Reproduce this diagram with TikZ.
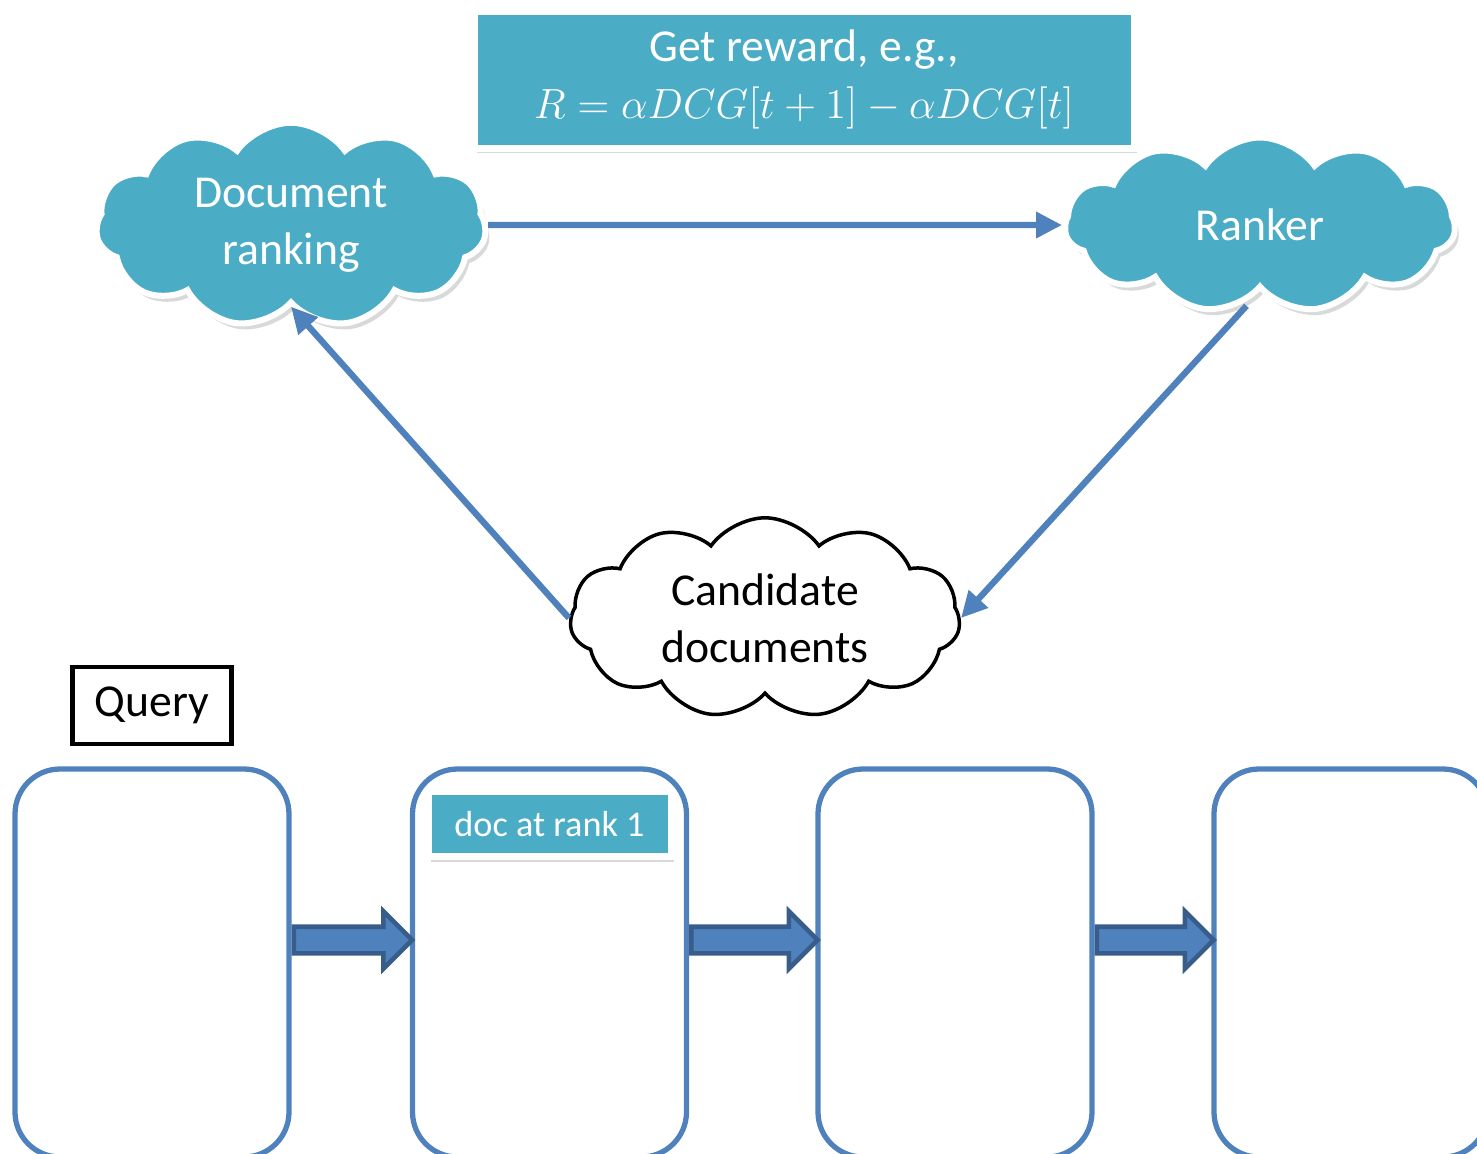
\documentclass[tikz,border=0pt]{standalone}
\usepackage{fontspec}
\setmainfont{Carlito}
\usepackage{xcolor}
\usetikzlibrary{shapes.symbols,shapes.arrows,arrows.meta,positioning,calc,shadows}
\definecolor{tealfill}{HTML}{4BACC6}
\definecolor{linkblue}{HTML}{4F81BD}
\definecolor{darkblue}{HTML}{385D8A}

\begin{document}
\begin{tikzpicture}[
    font=\fontsize{13}{16.2}\selectfont,
    tealcloud/.style={cloud, cloud puffs=11, cloud puff arc=110, cloud ignores aspect, fill=tealfill, draw=white, line width=0.06cm, text=white, align=center, minimum width=3.9cm, minimum height=1.75cm, drop shadow={shadow xshift=0.04cm, shadow yshift=-0.06cm, opacity=0.3}},
    plaincloud/.style={cloud, cloud puffs=11, cloud puff arc=110, cloud ignores aspect, fill=white, draw=black, line width=0.035cm, align=center, minimum width=3.9cm, minimum height=1.78cm},
    tealbox/.style={rectangle, fill=tealfill, draw=white, line width=0.07cm, text=white, align=center, inner sep=0pt, drop shadow={shadow xshift=0.03cm, shadow yshift=-0.05cm, opacity=0.3}},
    querybox/.style={rectangle, draw=black, line width=1.3pt, minimum width=1.59cm, minimum height=0.77cm},
    slot/.style={rectangle, draw=linkblue, line width=1.5pt, rounded corners=0.45cm, minimum width=2.74cm, minimum height=3.88cm},
    linkarrow/.style={-{Triangle[length=0.26cm, width=0.25cm]}, line width=1.8pt, linkblue},
    blockarrow/.style={single arrow, single arrow head extend=0.155cm, inner sep=0.11cm, fill=linkblue, draw=darkblue, line width=1.3pt}
]
    \useasboundingbox (0,0) rectangle (14.77,-11.54);

    % Reward and the two teal clouds
    \node[tealbox, minimum width=6.6cm, minimum height=1.37cm] (reward) at (8.04,-0.795)
        {Get reward, e.g.,\\ $R = \alpha DCG[t+1] - \alpha DCG[t]$};
    \node[tealcloud] (docrank) at (2.91,-2.25) {Document\\ ranking};
    \node[tealcloud] (ranker) at (12.6,-2.25) {Ranker};
    \node[plaincloud] (cand) at (7.65,-6.18) {Candidate\\ documents};

    % Loop arrows
    \draw[linkarrow] (docrank.east) -- (ranker.west);
    \draw[linkarrow, shorten <=0.2cm] (ranker.south) -- (cand.east);
    \draw[linkarrow] (cand.west) -- (docrank.south);

    % Result list slots
    \foreach \i/\x in {1/1.52, 2/5.495, 3/9.55, 4/13.51}
        \node[slot] (box\i) at (\x,-9.63) {};

    \node[querybox, above=0.2cm of box1] (query) {Query};
    \node[tealbox, minimum width=2.43cm, minimum height=0.65cm, font=\fontsize{10.3}{12}\selectfont,
        below=0.22cm of box2.north] (rank1) {doc at rank 1};

    % Block arrows between slots
    \foreach \a/\b in {1/2, 2/3, 3/4}
        \path let \p1=(box\a.east), \p2=(box\b.west) in
            node[blockarrow, anchor=tail, minimum height=\x2-\x1] (arr\a) at (\x1,\y1+0.23cm) {};
\end{tikzpicture}
\end{document}
